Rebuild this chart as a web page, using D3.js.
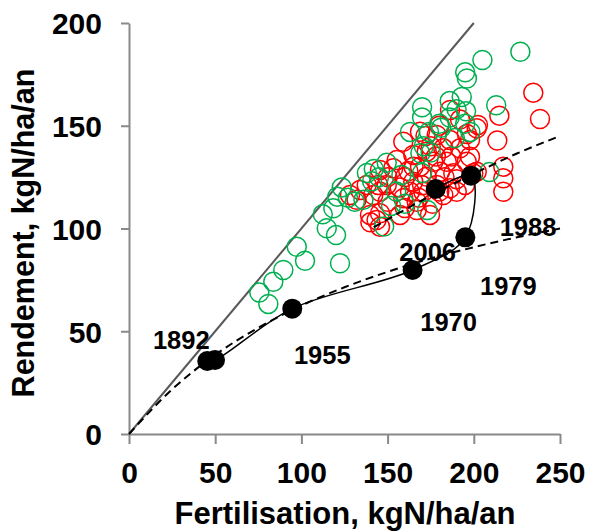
<!DOCTYPE html>
<html>
<head>
<meta charset="utf-8">
<script src="https://cdn.jsdelivr.net/npm/d3@7/dist/d3.min.js"></script>
<style>
  body { margin: 0; background: #fff; }
  text { font-family: "Liberation Sans", Arial, sans-serif; font-weight: bold; fill: #000; }
</style>
</head>
<body>
<svg id="chart" width="591" height="532"></svg>
<script>
// axis ticks
const xTicks = [0, 50, 100, 150, 200, 250];
const yTicks = [0, 50, 100, 150, 200];

// green circles: [fertilisation, rendement]
const greenPoints = [
  [75.6, 68.8], [80.8, 63.3], [83.7, 74.1], [89.5, 79.8], [97.3, 91.1], [102.1, 84.3],
  [122.4, 83.1], [114.7, 100.1], [120.1, 96.8], [112.4, 106.9], [118.5, 109.8],
  [120.8, 115.5], [123.4, 120.0], [127, 115], [131, 113], [136, 114],
  [138, 127], [142, 129], [145, 125], [141, 123], [149.5, 132], [148, 101],
  [152, 111], [155, 118], [160, 112], [158, 126], [170, 127], [173, 109],
  [163, 147], [170, 159], [170, 154], [174, 147], [171, 140], [169, 136.6],
  [175, 137], [180, 151], [186, 154], [186, 162], [190, 158], [195, 151],
  [195.5, 157], [198, 147], [189, 144], [181, 149], [193, 164], [195, 176],
  [196, 173], [205, 182], [227, 186], [213, 160], [209, 127.5]
];

// red circles: [fertilisation, rendement]
const redPoints = [
  [234.5, 166.1], [238.4, 153.3], [214.8, 154.9], [202.4, 150.4], [213.6, 142.8],
  [217.1, 130.1], [217.1, 124.4], [217.1, 117.9], [197.8, 134.9], [194.9, 121.2],
  [197.8, 143.1], [201.7, 148.8], [186.2, 157.7], [168.8, 147.1], [199.7, 126.9],
  [155.3, 133.3], [134, 118.7], [144.6, 121.2], [145.6, 107.4], [145.6, 100.9],
  [174.6, 106.6], [178.5, 145.5], [186.2, 143.1], [192, 139], [182.3, 139],
  [172.7, 137.4], [164.9, 135.8], [159.1, 142.2], [176.5, 132.5], [184.3, 132.5],
  [195.9, 132.5], [168.8, 130.1], [180.4, 127.6], [188.1, 126.9], [172.7, 125.2],
  [164.9, 122.8], [178.5, 121.2], [186.2, 119.6], [163, 117.9], [170.7, 117.9],
  [149.5, 121.2], [153.3, 129.3], [145.6, 117.9], [141.7, 116.3], [159.1, 114.7],
  [166.9, 113], [182.3, 116.3], [190.1, 117.9], [139.8, 106.6], [157.2, 106.6],
  [137.9, 121.2], [201.7, 127.6], [128.2, 116.3], [145.6, 128.5], [143.6, 104.1],
  [166.9, 109], [192, 153], [180, 150], [160, 110], [150, 113], [176, 112],
  [190, 124], [157, 120], [162, 128], [150, 125], [140, 103], [132, 114], [196, 146],
  [175, 140], [183, 125], [170, 121], [178, 135], [165, 130], [187, 135],
  [160, 125], [180, 118], [172, 145], [168, 115]
];

// historical trajectory (black dots)
const years = ["1892", "", "1955", "1970", "1979", "1988", "2006"];
const histF = [45.4, 49.9, 94.7, 164.5, 195.1, 198.4, 177.9];
const histY = [35.5, 36.0, 61.0, 79.8, 95.7, 125.7, 119.2];

// 1:1 line and the two dashed response curves
const oneToOne = [[0, 0], [200, 200]];
const lowerCurve = [[0, 0], [25, 21.7], [50, 38.5], [75, 51.7], [100, 62.5], [125, 71.4],
  [150, 78.9], [175, 85.4], [200, 90.9], [225, 95.7], [250, 100]];
const upperCurve = [[142, 100.6], [175, 116], [200, 126.6], [225, 136.5], [250, 145]];

const svg = d3.select("#chart");

const x = d3.scaleLinear().domain([0, 250]).range([129, 560]);
const y = d3.scaleLinear().domain([0, 200]).range([434, 23]);

const axisColor = "#898989";

// axes
const gx = svg.append("g")
  .attr("transform", `translate(0,${y(0)})`)
  .call(d3.axisBottom(x).tickValues(xTicks).tickSize(10).tickSizeOuter(0).tickPadding(18));
const gy = svg.append("g")
  .attr("transform", `translate(${x(0)},0)`)
  .call(d3.axisLeft(y).tickValues(yTicks).tickSize(8).tickSizeOuter(0).tickPadding(19));

[gx, gy].forEach(g => {
  g.select(".domain").attr("stroke", axisColor).attr("stroke-width", 2);
  g.selectAll(".tick line").attr("stroke", axisColor).attr("stroke-width", 2);
  g.selectAll(".tick text").attr("fill", "#000").style("font-size", "30px")
    .style("font-family", '"Liberation Sans", Arial, sans-serif').style("font-weight", "bold");
});
gy.selectAll(".tick text").attr("dy", "0.36em");

const line = d3.line().x(d => x(d[0])).y(d => y(d[1]));

// 1:1 line
svg.append("path")
  .datum(oneToOne)
  .attr("d", line)
  .attr("fill", "none")
  .attr("stroke", "#595959")
  .attr("stroke-width", 2);

// circles: red first then green
svg.append("g").selectAll("circle")
  .data(redPoints)
  .join("circle")
  .attr("cx", d => x(d[0]))
  .attr("cy", d => y(d[1]))
  .attr("r", 9.5)
  .attr("fill", "none")
  .attr("stroke", "#ff0000")
  .attr("stroke-width", 1.5);

svg.append("g").selectAll("circle")
  .data(greenPoints)
  .join("circle")
  .attr("cx", d => x(d[0]))
  .attr("cy", d => y(d[1]))
  .attr("r", 9.5)
  .attr("fill", "none")
  .attr("stroke", "#00b050")
  .attr("stroke-width", 1.5);

// dashed curves
const smooth = d3.line().x(d => x(d[0])).y(d => y(d[1])).curve(d3.curveMonotoneX);
[lowerCurve, upperCurve].forEach(c => {
  svg.append("path")
    .datum(c)
    .attr("d", smooth)
    .attr("fill", "none")
    .attr("stroke", "#000")
    .attr("stroke-width", 2)
    .attr("stroke-dasharray", "8,5");
});

// historical trajectory
const hist = histF.map((f, i) => ({ f, y: histY[i], year: years[i] }));
svg.append("path")
  .datum(hist)
  .attr("d", d3.line().x(d => x(d.f)).y(d => y(d.y)).curve(d3.curveCatmullRom))
  .attr("fill", "none")
  .attr("stroke", "#000")
  .attr("stroke-width", 1.5);

svg.append("g").selectAll("circle")
  .data(hist)
  .join("circle")
  .attr("cx", d => x(d.f))
  .attr("cy", d => y(d.y))
  .attr("r", 10)
  .attr("fill", "#000");

// year labels, offset in pixels from their dot
const labelOffsets = [[-26, -21], [0, 0], [30, 46], [36, 52], [43, 49], [57, 51], [-8, 63]];
svg.append("g").selectAll("text")
  .data(hist.filter(d => d.year))
  .join("text")
  .attr("x", d => x(d.f) + labelOffsets[hist.indexOf(d)][0])
  .attr("y", d => y(d.y) + labelOffsets[hist.indexOf(d)][1])
  .attr("text-anchor", "middle")
  .attr("dominant-baseline", "central")
  .style("font-size", "25.5px")
  .text(d => d.year);

// axis titles
svg.append("text")
  .attr("x", 345)
  .attr("y", 524)
  .attr("text-anchor", "middle")
  .style("font-size", "31px")
  .text("Fertilisation, kgN/ha/an");

svg.append("text")
  .attr("transform", "translate(34,233) rotate(-90)")
  .attr("text-anchor", "middle")
  .style("font-size", "30.5px")
  .text("Rendement, kgN/ha/an");
</script>
</body>
</html>
